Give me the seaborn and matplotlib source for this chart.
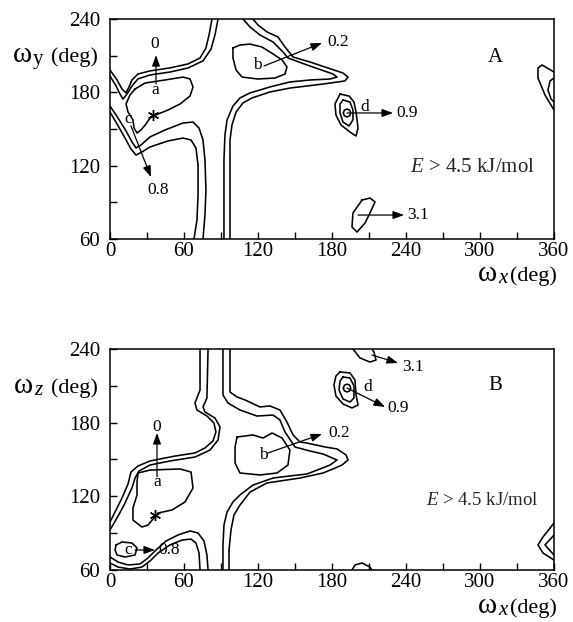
import matplotlib
matplotlib.use("Agg")
import matplotlib.pyplot as plt
import seaborn as sns
import pandas as pd

sns.set_theme(style="ticks")
plt.rcParams['font.family'] = ['Liberation Serif', 'DejaVu Serif']
plt.rcParams['mathtext.fontset'] = 'custom'
plt.rcParams['mathtext.rm'] = 'Liberation Serif'
plt.rcParams['mathtext.it'] = 'Liberation Serif:italic'

W, H = 573, 622

# ---------------- panel A contours (omega_x, omega_y in deg) ----------------
A_U = [(0, 198.3), (5.7, 190.1), (9.7, 182.8), (13, 179.5), (15.4, 184.4), (17.8, 190.1), (22.7, 195.0),
       (32.4, 197.5), (48.6, 200.0), (63.2, 203.2), (73, 208.1), (77.8, 216.3), (80.3, 226.9), (82.7, 240)]
A_L = [(0, 193.4), (4.9, 185.2), (8.1, 178.6), (10.5, 174.5), (13.8, 178.6), (17.8, 185.2), (22.7, 191.0),
       (32.4, 194.2), (48.6, 196.6), (63.2, 199.9), (75.4, 205.7), (81.9, 215.4), (85.1, 226.9), (87.6, 240)]
A_P_OUT = [(0, 168.8), (6.5, 159), (13, 148.4), (17.8, 139.4), (21.1, 134.5), (25.1, 136.9), (32.4, 143.5),
           (44.6, 149.2), (59.2, 154.9), (67.3, 155.7), (72.2, 150.8), (75.4, 141), (77, 124.6), (77.8, 100.1),
           (77, 79.6), (75.4, 60)]
A_P_IN = [(0, 163.9), (5.7, 154.1), (12.2, 142.6), (17, 133.6), (21.1, 128.7), (25.9, 131.2), (32.4, 135.3),
          (47, 140.2), (59.2, 142.6), (65.7, 141), (69.7, 134.5), (71.4, 120.5), (71.4, 96), (70.5, 75.5),
          (68.1, 60)]
A_A = [(20.3, 182.7), (28.4, 187.6), (44.6, 190.1), (59.2, 192.5), (64.9, 190.9), (67.3, 184.4), (64.9, 177),
       (56.8, 170.5), (47, 165.5), (38.9, 162.3), (32.4, 159), (29.2, 154.1), (25.1, 149.2), (21.9, 146.7),
       (19.5, 150.8), (18.6, 157.4), (14.6, 163.9), (13, 170.5), (16.2, 177.8), (20.3, 182.7)]
A_T_IN = [(107.8, 240), (113.5, 233.5), (121.6, 226.9), (132.2, 221.2), (140.3, 213), (144.3, 208.1),
          (159.7, 202.4), (180.8, 195), (184.1, 192.5), (178.4, 190.9), (162.2, 190.1), (145.9, 188.5),
          (129.7, 184.4), (113.5, 179.5), (105.4, 175.4), (99.7, 168.8), (94.9, 157.4), (93.2, 145.1),
          (92.4, 124.6), (92.4, 91.9), (92.4, 60)]
A_T_OUT = [(115.9, 240), (120, 235.1), (127.3, 229.4), (136.2, 225.3), (141.9, 217.1), (148.4, 208.9),
           (162.2, 204.8), (188.9, 195.8), (193, 192.5), (190.5, 189.3), (172.7, 186.8), (145.9, 183.5),
           (129.7, 180.3), (115.1, 175.4), (107.8, 171.3), (102.2, 163.9), (98.9, 153.3), (97.3, 141),
           (97.3, 108.3), (97.3, 60)]
A_B = [(99.7, 216.3), (105.4, 218.7), (113.5, 219.5), (123.2, 217.1), (132.2, 211.4), (139.5, 206.5),
       (143.5, 200.8), (141.9, 195), (133.8, 191.7), (120, 190.9), (107, 192.5), (102.2, 198.3),
       (99.7, 208.1), (99.7, 216.3)]
A_D1 = [(186.5, 178.6), (193.8, 177), (197.8, 172.1), (199.5, 163.9), (201.1, 150.8), (199.5, 144.3),
        (194.6, 147.5), (187.3, 153.3), (183.2, 161.5), (182.4, 170.5), (186.5, 178.6)]
A_D2 = [(188.9, 173.7), (194.6, 172.1), (197, 165.5), (197, 157.4), (193.8, 152.5), (188.9, 155.7),
        (186.5, 163.1), (186.5, 170.5), (188.9, 173.7)]
A_D3 = [(189.2, 163.1), (190, 165.4), (192.2, 166.3), (194.4, 165.4), (195.2, 163.1), (194.4, 160.8),
        (192.2, 159.9), (190, 160.8), (189.2, 163.1)]
A_31 = [(204.3, 91.9), (210.8, 93.5), (214.9, 90.3), (210.8, 81.3), (206.8, 73.1), (200.3, 65.7),
        (196.2, 69.8), (197, 81.3), (202.7, 89.5), (204.3, 91.9)]
A_R1 = [(360, 196.6), (350.3, 202.4), (347, 199.9), (347, 191.7), (352.7, 177.8), (360, 165.5)]
A_R2 = [(360, 191.7), (356.8, 189.3), (355.1, 181.9), (357.6, 174.5), (360, 172.1)]

# ---------------- panel B contours (omega_x, omega_z in deg) ----------------
B_L_OUT = [(73, 240), (73, 206.6), (68.9, 196), (70.5, 190.3), (78.6, 185.4), (84.3, 179.7), (85.9, 172.4),
           (83.5, 165.1), (77, 159.4), (68.9, 155.3), (52.7, 152.8), (32.4, 148.8), (22.7, 144.7),
           (17, 139.8), (14.6, 130), (9.7, 118.6), (4.9, 108.9), (0, 99.1)]
B_L_IN = [(79.5, 240), (78.6, 200.1), (75.4, 192.8), (77, 188.7), (85.1, 183.8), (89.2, 176.5), (87.6, 165.9),
          (81.1, 157.7), (68.9, 152), (48.6, 148.8), (32.4, 145.5), (23.5, 140.6), (20.3, 134.9),
          (17.8, 126.8), (11.4, 112.9), (5.7, 102.4), (0, 92.6)]
B_A = [(22.7, 139), (32.4, 141.4), (56.8, 142.3), (65.7, 139.8), (67.3, 126.8), (60.8, 115.4), (50.3, 108.9),
       (38.9, 106.4), (30.8, 96.6), (25.9, 95), (18.6, 100.7), (18.6, 110.5), (21.9, 121.1), (21.9, 131.7),
       (22.7, 139)]
B_LOW_OUT = [(0, 70.6), (6.5, 66.5), (14.6, 64.1), (24.3, 64.9), (30.8, 69.8), (37.3, 76.3), (45.4, 83.6),
             (55.1, 88.5), (64.9, 91.8), (71.4, 90.1), (76.2, 83.6), (78.6, 72.2), (79.5, 60)]
B_LOW_IN = [(0, 65.7), (6.5, 62.4), (16.2, 60.8), (25.9, 62.4), (32.4, 67.3), (38.9, 73.8), (48.6, 80.4),
            (58.4, 84.4), (65.7, 85.2), (69.7, 82), (72.2, 73.8), (73, 60)]
B_C = [(4.9, 80.4), (9.7, 82.8), (17.8, 82), (21.9, 77.9), (20.3, 72.2), (12.2, 70.6), (5.7, 72.2),
       (4.1, 76.3), (4.9, 80.4)]
B_T_IN = [(91.6, 240), (91.6, 202.5), (95.7, 196), (105.4, 190.3), (119.2, 185.4), (132.2, 186.2),
          (137.8, 182.2), (141.9, 172.4), (150, 160.2), (162.2, 156.9), (172.7, 154.5), (184.1, 149.6),
          (178.4, 145.5), (170.3, 142.3), (159.7, 138.2), (145.9, 136.6), (132.2, 134.9), (115.9, 129.2),
          (105.4, 121.1), (99.7, 115.4), (94.9, 107.2), (92.4, 96.6), (91.6, 80.4), (91.6, 60)]
B_T_OUT = [(97.3, 240), (97.3, 205), (103, 200.9), (109.5, 198.5), (121.6, 192.8), (129.7, 193.6),
           (137.8, 190.3), (143.5, 180.5), (148.4, 170), (154, 164.3), (159.7, 163.4), (174.3, 160.2),
           (184.1, 158.6), (191.4, 153.7), (193, 149.6), (188.1, 145.5), (180.8, 142.3), (172.7, 139),
           (154, 134.9), (127.3, 130.9), (113.5, 123.5), (105.4, 112.9), (100.5, 104.8), (98.1, 92.6),
           (96.5, 76.3), (96.5, 60)]
B_B = [(103, 168.3), (115.9, 170), (124.1, 167.5), (131.4, 171.6), (139.5, 167.5), (145.9, 157.7),
       (144.3, 145.5), (135.4, 139), (121.6, 137.4), (105.4, 139), (101.4, 147.1), (101.4, 160.2),
       (103, 168.3)]
B_D1 = [(186.5, 221.3), (194.6, 220.5), (198.6, 214.8), (199.5, 202.5), (201.1, 194.4), (196.2, 192),
        (188.9, 195.2), (183.2, 201.7), (181.6, 210.7), (183.2, 218), (186.5, 221.3)]
B_D2 = [(188.9, 217.2), (194.6, 216.4), (197.8, 209.9), (197.8, 200.1), (194.6, 196.8), (188.9, 199.3),
        (185.7, 206.6), (186.5, 213.9), (188.9, 217.2)]
B_D3 = [(189.2, 208.2), (190, 210.5), (192.2, 211.4), (194.4, 210.5), (195.2, 208.2), (194.4, 205.9),
        (192.2, 205), (190, 205.9), (189.2, 208.2)]
B_31 = [(197, 240), (202.7, 232.7), (210.8, 229.4), (215.7, 231), (214, 237.6), (212.4, 240)]
B_BOT = [(196.2, 60), (198.6, 64.1), (204.3, 65.7), (210.8, 62.4), (212.4, 60)]
B_R1 = [(360, 98.3), (351.1, 86.9), (347, 80.4), (351.1, 73.8), (360, 68.1)]
B_R2 = [(360, 88.5), (352.7, 80.4), (360, 72.2)]

A_LINES = [A_U, A_L, A_P_OUT, A_P_IN, A_A, A_T_IN, A_T_OUT, A_B, A_D1, A_D2, A_D3, A_31, A_R1, A_R2]
B_LINES = [B_L_OUT, B_L_IN, B_A, B_LOW_OUT, B_LOW_IN, B_C, B_T_IN, B_T_OUT, B_B, B_D1, B_D2, B_D3,
           B_31, B_BOT, B_R1, B_R2]

X_TICKS = [0, 60, 120, 180, 240, 300, 360]
Y_TICKS = [60, 120, 180, 240]

fig = plt.figure(figsize=(W / 100, H / 100), dpi=100)
axA = fig.add_axes([110 / W, 1 - 239 / H, 444 / W, 220 / H])
axB = fig.add_axes([110 / W, 1 - 570 / H, 444 / W, 221 / H])


def draw(ax, lines):
    for pts in lines:
        df = pd.DataFrame(pts, columns=["x", "y"])
        sns.lineplot(data=df, x="x", y="y", sort=False, estimator=None, color="black",
                     lw=1.15, ax=ax, legend=False)
    ax.set_xlim(0, 360)
    ax.set_ylim(60, 240)
    ax.set_xticks(X_TICKS)
    ax.set_yticks(Y_TICKS)
    ax.set_xticks(range(30, 360, 60), minor=True)
    ax.set_yticks([90, 150, 210], minor=True)
    ax.tick_params(which="both", direction="in", length=5, width=1, top=False, right=False,
                   colors="black")
    ax.tick_params(axis="x", labelsize=15, pad=2)
    ax.tick_params(axis="y", labelsize=15, pad=7)
    ax.set_xlabel("")
    ax.set_ylabel("")
    for s in ax.spines.values():
        s.set_color("black")
        s.set_linewidth(1.1)
    ax.set_facecolor("white")


def arrow(ax, start, end):
    ax.annotate("", xy=end, xytext=start,
                arrowprops=dict(arrowstyle="-|>,head_length=0.55,head_width=0.2", color="black",
                                lw=0.9, shrinkA=0, shrinkB=0))


def lab(ax, x, y, s, size=12.5, ha="center"):
    ax.text(x, y, s, fontsize=size, ha=ha, va="center", color="black")


draw(axA, A_LINES)
draw(axB, B_LINES)

# panel A annotations
lab(axA, 36.5, 219.5, "0")
arrow(axA, (37.3, 186.8), (37.3, 210.5))
lab(axA, 36.5, 181.9, "a")
axA.plot([34.9], [161.5], marker=(6, 2, 0), ms=8, color="black", mew=1)
lab(axA, 119.2, 202.4, "b")
arrow(axA, (124.9, 201.6), (171.9, 220.4))
lab(axA, 176, 221.2, "0.2", ha="left")
lab(axA, 14.6, 158.2, "c")
arrow(axA, (17, 152.5), (33.2, 110.7))
lab(axA, 38.9, 100.1, "0.8")
lab(axA, 206.8, 168, "d")
arrow(axA, (192.2, 163.1), (229.5, 163.1))
lab(axA, 231.9, 163.1, "0.9", ha="left")
arrow(axA, (201.1, 79.6), (238.4, 79.6))
lab(axA, 240.8, 79.6, "3.1", ha="left")
lab(axA, 312.2, 208.9, "A", size=15)
axA.text(344.6, 118.9, "$E$ > 4.5 kJ/mol", fontsize=15, ha="right", va="center")

# panel B annotations
lab(axB, 38.1, 176.5, "0")
arrow(axB, (38.1, 136), (38.1, 171.6))
lab(axB, 38.1, 131.7, "a")
axB.plot([36.5], [104.8], marker=(6, 2, 0), ms=8, color="black", mew=1)
lab(axB, 124.1, 153.7, "b")
arrow(axB, (128.1, 155.3), (171.9, 170.8))
lab(axB, 176.8, 171.6, "0.2", ha="left")
lab(axB, 14.6, 76.3, "c")
arrow(axB, (20.3, 76.3), (36.5, 76.3))
lab(axB, 38.9, 76.3, "0.8", ha="left")
lab(axB, 209.2, 209, "d")
arrow(axB, (192.2, 208.2), (223, 192.8))
lab(axB, 224.6, 192, "0.9", ha="left")
arrow(axB, (212.4, 235.1), (233.5, 228.6))
lab(axB, 236.8, 225.3, "3.1", ha="left")
lab(axB, 312.2, 209.9, "B", size=15)
axB.text(347, 117, "$E$ > 4.5 kJ/mol", fontsize=13.5, ha="right", va="center")


def ftext(px, py, s, **kw):
    fig.text(px / W, 1 - py / H, s, va="baseline", color="black", **kw)


def axis_label(px_omega, py, sub, sub_style, px_deg):
    ftext(px_omega, py, r"$\mathrm{\omega}$", fontsize=21, ha="right")
    ftext(px_omega + 1, py + 2, sub, fontsize=15, ha="left", style=sub_style)
    ftext(px_deg, py, "(deg)", fontsize=16, ha="right")


axis_label(32, 62, "y", "normal", 98)
axis_label(497, 281, "x", "italic", 557)
axis_label(33, 393, "z", "italic", 98)
axis_label(497, 613, "x", "italic", 557)

fig.savefig("out.png", dpi=100, facecolor="white")
